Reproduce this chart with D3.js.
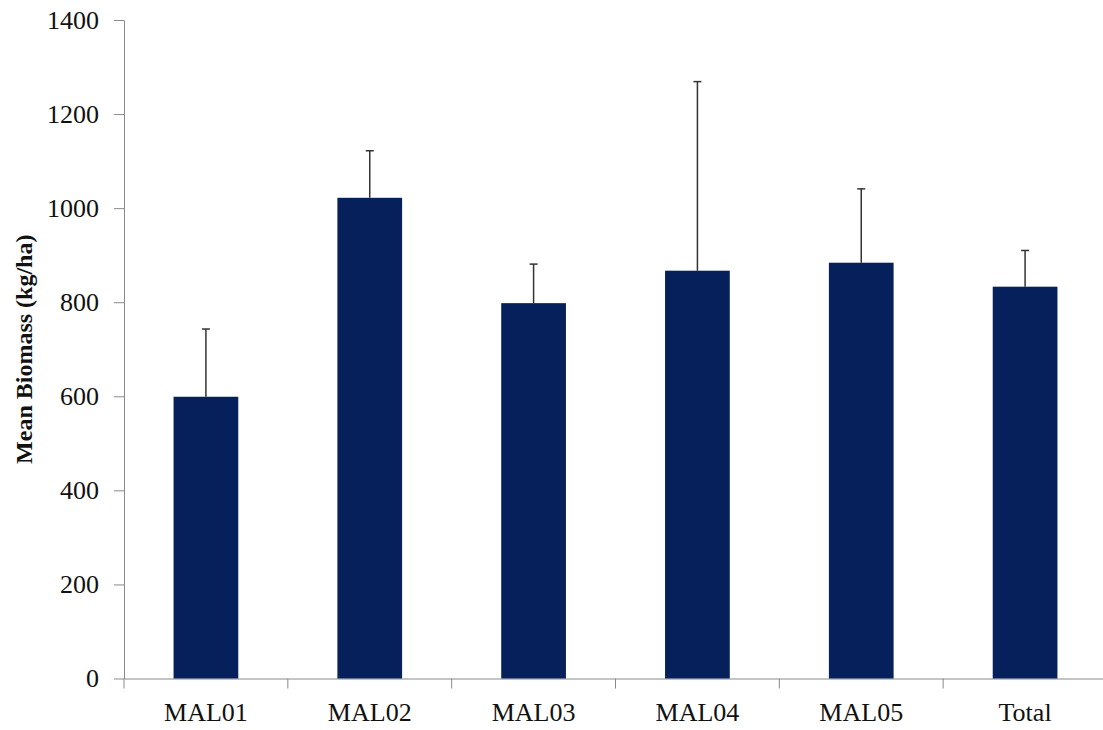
<!DOCTYPE html>
<html>
<head>
<meta charset="utf-8">
<script src="https://cdn.jsdelivr.net/npm/d3@7"></script>
<style>
  body { margin: 0; background: #fff; }
  svg text { font-family: "Liberation Serif", "Times New Roman", serif; }
</style>
</head>
<body>
<div id="chart"></div>
<script>
// values
const categories = ['MAL01', 'MAL02', 'MAL03', 'MAL04', 'MAL05', 'Total'];
const meanBiomass = [599, 1022, 798, 867, 884, 833];
const errUpper = [144, 100, 83, 402, 157, 77];
const yTicks = [0, 200, 400, 600, 800, 1000, 1200, 1400];

const width = 1103, height = 730;
const plotLeft = 124, plotRight = 1107, plotTop = 20, plotBottom = 678.5;
const serif = '"Liberation Serif", "Times New Roman", serif';

const svg = d3.select('#chart')
  .append('svg')
  .attr('width', width)
  .attr('height', height);

const x = d3.scaleBand()
  .domain(categories)
  .range([plotLeft, plotRight])
  .paddingInner(0.605)
  .paddingOuter(0.3025);

const y = d3.scaleLinear()
  .domain([0, 1400])
  .range([plotBottom, plotTop]);

const data = categories.map((c, i) => ({ cat: c, mean: meanBiomass[i], err: errUpper[i] }));

// y axis
const yAxis = svg.append('g')
  .attr('transform', `translate(${plotLeft},0)`)
  .attr('font-family', serif)
  .call(d3.axisLeft(y).tickValues(yTicks).tickFormat(d3.format('d'))
    .tickSize(10).tickPadding(15).tickSizeOuter(0));
yAxis.attr('font-family', serif);
yAxis.select('.domain').attr('stroke', '#8a8a8a');
yAxis.selectAll('.tick line').attr('stroke', '#8a8a8a');
yAxis.selectAll('.tick text')
  .attr('fill', '#111')
  .style('font-family', serif)
  .style('font-size', '26px');

// x axis: labels centred, tick marks at category boundaries
const xAxis = svg.append('g')
  .attr('transform', `translate(0,${plotBottom})`)
  .call(d3.axisBottom(x).tickSize(0).tickPadding(24).tickSizeOuter(0));
xAxis.attr('font-family', serif);
xAxis.select('.domain').attr('stroke', '#8a8a8a');
xAxis.selectAll('.tick text')
  .attr('fill', '#111')
  .style('font-family', serif)
  .style('font-size', '26px');

const half = (x.step() - x.bandwidth()) / 2;
const bounds = categories.map(c => x(c) - half).concat([x(categories[categories.length - 1]) + x.bandwidth() + half]);
xAxis.selectAll('.bound')
  .data(bounds)
  .enter().append('line')
  .attr('class', 'bound')
  .attr('x1', d => d).attr('x2', d => d)
  .attr('y1', 0).attr('y2', 10)
  .attr('stroke', '#8a8a8a');

// bars
svg.selectAll('.bar')
  .data(data)
  .enter().append('rect')
  .attr('class', 'bar')
  .attr('x', d => x(d.cat))
  .attr('y', d => y(d.mean))
  .attr('width', x.bandwidth())
  .attr('height', d => y(0) - y(d.mean))
  .attr('fill', '#06205c');

// error bars (upper only)
const eb = svg.selectAll('.err')
  .data(data)
  .enter().append('g')
  .attr('class', 'err')
  .attr('stroke', '#333')
  .attr('stroke-width', 1.5);
eb.append('line')
  .attr('x1', d => x(d.cat) + x.bandwidth() / 2)
  .attr('x2', d => x(d.cat) + x.bandwidth() / 2)
  .attr('y1', d => y(d.mean))
  .attr('y2', d => y(d.mean + d.err));
eb.append('line')
  .attr('x1', d => x(d.cat) + x.bandwidth() / 2 - 4)
  .attr('x2', d => x(d.cat) + x.bandwidth() / 2 + 4)
  .attr('y1', d => y(d.mean + d.err))
  .attr('y2', d => y(d.mean + d.err));

// y axis title
svg.append('text')
  .attr('transform', `translate(32,${(plotTop + plotBottom) / 2}) rotate(-90)`)
  .attr('text-anchor', 'middle')
  .style('font-family', serif)
  .style('font-size', '24px')
  .style('font-weight', 'bold')
  .attr('fill', '#111')
  .text('Mean Biomass (kg/ha)');
</script>
</body>
</html>
